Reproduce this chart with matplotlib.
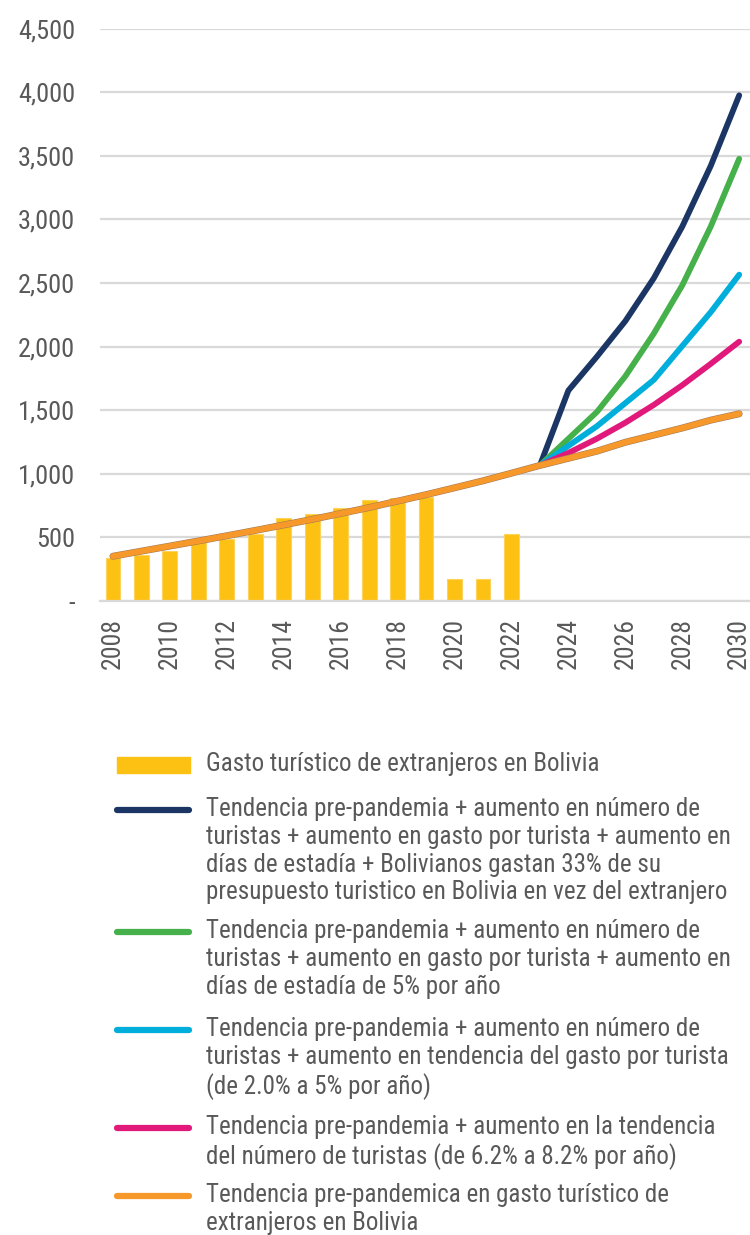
import matplotlib
matplotlib.use("Agg")
import matplotlib.pyplot as plt
import matplotlib.patheffects as pe
from matplotlib.lines import Line2D
from matplotlib.patches import Rectangle
from matplotlib.ticker import FuncFormatter

plt.rcParams['font.family'] = ['Roboto Condensed', 'Roboto', 'DejaVu Sans']

# Gasto turistico de extranjeros (barras)
bar_years = list(range(2008, 2023))
bar_values = [336, 362, 393, 490, 485, 525, 650, 688, 730, 797, 806, 818, 175, 175, 527]

# Tendencia pre-pandemica (linea naranja, 2008-2030)
trend_years = list(range(2008, 2031))
trend_values = [352, 392, 432, 472, 513, 555, 598, 642, 688, 735, 785, 836, 890,
                945, 1005, 1066, 1122, 1178, 1248, 1304, 1360, 1422, 1472]

# Escenarios 2023-2030
proj_years = list(range(2023, 2031))
navy_values = [1066, 1655, 1921, 2201, 2538, 2944, 3421, 3976]
green_values = [1066, 1276, 1486, 1767, 2103, 2482, 2944, 3477]
cyan_values = [1066, 1220, 1374, 1556, 1739, 2005, 2271, 2566]
magenta_values = [1066, 1164, 1276, 1402, 1542, 1697, 1865, 2039]

bar_color = "#FDC113"
navy = "#1B3664"
green = "#46B04A"
cyan = "#00AEDB"
magenta = "#E0197B"
orange = "#F7992A"
text_color = "#595959"
grid_color = "#D9D9D9"

labels = [
    "Gasto turístico de extranjeros en Bolivia",
    "Tendencia pre-pandemia + aumento en número de\nturistas + aumento en gasto por turista + aumento en\n"
    "días de estadía + Bolivianos gastan 33% de su\npresupuesto turistico en Bolivia en vez del extranjero",
    "Tendencia pre-pandemia + aumento en número de\nturistas + aumento en gasto por turista + aumento en\n"
    "días de estadía de 5% por año",
    "Tendencia pre-pandemia + aumento en número de\nturistas + aumento en tendencia del gasto por turista\n"
    "(de 2.0% a 5% por año)",
    "Tendencia pre-pandemia + aumento en la tendencia\ndel número de turistas (de 6.2% a 8.2% por año)",
    "Tendencia pre-pandemica en gasto turístico de\nextranjeros en Bolivia",
]

fig = plt.figure(figsize=(7.5, 12.35), dpi=100)
ax = fig.add_axes([100 / 750, 1 - 601 / 1235, 650 / 750, (601 - 28.7) / 1235])

ax.bar(bar_years, bar_values, width=0.52, color=bar_color, edgecolor="#FDD35C",
       linewidth=0.8, zorder=2)

lw = 4.2
for vals, col in [(navy_values, navy), (green_values, green),
                  (cyan_values, cyan), (magenta_values, magenta)]:
    ax.plot(proj_years, vals, color=col, lw=lw, solid_capstyle="round",
            solid_joinstyle="round", zorder=3)
ax.plot(trend_years, trend_values, color=orange, lw=lw, solid_capstyle="round",
        solid_joinstyle="round", zorder=4,
        path_effects=[pe.Stroke(linewidth=lw + 0.8, foreground="#A57A55"), pe.Normal()])

ax.set_xlim(2007.546, 2030.38)
ax.set_ylim(0, 4500)
ax.set_yticks(range(0, 4501, 500))
ax.yaxis.set_major_formatter(FuncFormatter(lambda v, p: "-" if v == 0 else f"{v:,.0f}"))
ax.set_xticks(range(2008, 2031, 2))
ax.tick_params(axis="x", length=0, pad=12, labelsize=18.5, labelcolor=text_color,
               labelrotation=90)
ax.tick_params(axis="y", length=0, pad=18, labelsize=19, labelcolor=text_color)
ax.grid(axis="y", color=grid_color, lw=1.6, zorder=0)
ax.set_axisbelow(True)
for s in ["top", "right", "left"]:
    ax.spines[s].set_visible(False)
ax.spines["bottom"].set_color(grid_color)
ax.spines["bottom"].set_linewidth(1.6)

# leyenda manual (icono alineado con la primera linea)
W, H = 750, 1235
first_line_y = [765, 810, 932, 1030, 1128, 1196]
colors = [None, navy, green, cyan, magenta, orange]
for i, (lab, y, col) in enumerate(zip(labels, first_line_y, colors)):
    if col is None:
        fig.patches.append(Rectangle((117 / W, 1 - 773 / H), 73 / W, 16 / H,
                                     transform=fig.transFigure, color=bar_color))
    else:
        fig.add_artist(Line2D([117 / W, 189 / W], [1 - y / H, 1 - y / H],
                              transform=fig.transFigure, color=col, lw=4.5,
                              solid_capstyle="round"))
    fig.text(206 / W, 1 - (y - 13) / H, lab, ha="left", va="top", fontsize=18,
             color=text_color, linespacing=1.2)

fig.savefig("out.png", dpi=100)
